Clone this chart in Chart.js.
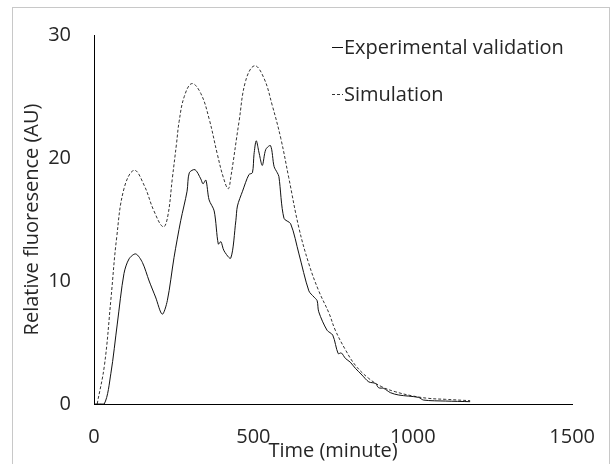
<!DOCTYPE html>
<html>
<head>
<meta charset="utf-8">
<script src="https://cdn.jsdelivr.net/npm/chart.js@4/dist/chart.umd.min.js"></script>
<style>
  html, body { margin: 0; padding: 0; background: #fff; }
  #wrap { width: 616px; height: 464px; }
</style>
</head>
<body>
<div id="wrap"><canvas id="chart" width="616" height="464"></canvas></div>
<script>
// data (time in minutes, fluorescence in AU)
const expTime = [0, 32, 53, 73, 94, 110, 131, 152, 173, 193, 214, 230, 251, 272, 292, 299, 317, 335, 342, 351,
  361, 377, 390, 398, 408, 429, 445, 450, 466, 486, 497, 502, 509, 518, 528, 539, 554, 565, 575, 580,
  596, 617, 643, 674, 690, 700, 705, 731, 749, 766, 776, 789, 804, 820, 841, 862, 883, 893, 909, 930,
  956, 1018, 1034, 1102, 1180];
const expValue = [0, 0, 2.5, 6.5, 10.6, 11.8, 12.2, 11.5, 10.0, 8.7, 7.3, 8.4, 11.9, 14.9, 17.3, 18.8, 19.05, 18.3, 17.9, 18.2,
  16.6, 15.7, 13.0, 13.2, 12.45, 11.86, 14.9, 16.1, 17.3, 18.65, 18.8, 20.3, 21.4, 20.4, 19.4, 20.7, 21.0, 19.3, 18.8, 18.5,
  15.1, 14.65, 12.2, 9.2, 8.7, 8.4, 7.5, 6.0, 5.6, 4.1, 4.15, 3.7, 3.4, 2.9, 2.35, 1.8, 1.67, 1.32, 1.27, 0.92,
  0.73, 0.54, 0.32, 0.24, 0.19];

const simTime = [10, 33, 53, 71, 94, 126, 157, 188, 217, 231, 246, 259, 267, 283, 307, 335, 361, 387, 406, 421,
  429, 455, 476, 504, 533, 559, 586, 611, 643, 674, 705, 737, 757, 789, 820, 862, 903, 945, 997, 1049,
  1102, 1180];
const simValue = [0, 3.2, 8.5, 13.5, 17.5, 19.0, 17.8, 15.7, 14.4, 15.2, 18.4, 21.2, 22.96, 24.98, 26.05, 25.25, 23.2, 20.3, 18.4, 17.5,
  18.4, 22.96, 26.3, 27.5, 26.5, 24.3, 21.6, 18.4, 14.3, 11.4, 9.2, 7.4, 6.0, 4.4, 3.15, 2.08, 1.4, 1.0, 0.67, 0.46,
  0.38, 0.27];

const seriesNames = ['Experimental validation', 'Simulation'];
const xTicks = [0, 500, 1000, 1500];
const yTicks = [0, 10, 20, 30];

const FONT = "'Open Sans', 'Noto Sans', sans-serif";
const TEXT = '#262626';
const SIZE = 20;

function toPoints(xs, ys) {
  return xs.map((x, i) => ({ x: x, y: ys[i] }));
}

// light frame round the whole picture
const framePlugin = {
  id: 'frame',
  beforeDraw(chart) {
    const ctx = chart.ctx;
    ctx.save();
    ctx.strokeStyle = '#c8c8c8';
    ctx.lineWidth = 1;
    ctx.strokeRect(12.5, 7.5, 597, 500);
    ctx.restore();
  }
};

// legend at top right, short line sample then the name
const legendPlugin = {
  id: 'cornerLegend',
  afterDraw(chart) {
    const ctx = chart.ctx;
    const rows = [48, 95];
    ctx.save();
    chart.data.datasets.forEach((ds, i) => {
      const y = rows[i];
      ctx.beginPath();
      ctx.strokeStyle = ds.borderColor;
      ctx.lineWidth = 1;
      ctx.setLineDash(ds.borderDash || []);
      ctx.moveTo(332, y - 0.5);
      ctx.lineTo(343, y - 0.5);
      ctx.stroke();
      ctx.setLineDash([]);
      ctx.fillStyle = TEXT;
      ctx.font = SIZE + 'px ' + FONT;
      ctx.textBaseline = 'middle';
      ctx.textAlign = 'left';
      ctx.fillText(ds.label, 344, y);
    });
    ctx.restore();
  }
};

new Chart(document.getElementById('chart'), {
  type: 'scatter',
  data: {
    datasets: [
      {
        label: seriesNames[0],
        data: toPoints(expTime, expValue),
        showLine: true,
        borderColor: '#111',
        borderWidth: 1,
        pointRadius: 0,
        tension: 0.3
      },
      {
        label: seriesNames[1],
        data: toPoints(simTime, simValue),
        showLine: true,
        borderColor: '#333',
        borderWidth: 1,
        borderDash: [3, 2],
        pointRadius: 0,
        tension: 0.4
      }
    ]
  },
  options: {
    responsive: false,
    animation: false,
    events: [],
    layout: { padding: { left: 0, right: 42, top: 33, bottom: 0 } },
    plugins: {
      legend: { display: false },
      tooltip: { enabled: false }
    },
    scales: {
      x: {
        type: 'linear',
        min: 0,
        max: 1500,
        afterFit: s => { s.height = 60; },
        afterBuildTicks: s => { s.ticks = xTicks.map(v => ({ value: v })); },
        grid: { display: false, drawTicks: false },
        border: { display: true, color: '#000', width: 1 },
        ticks: {
          padding: 21,
          color: TEXT,
          font: { family: FONT, size: SIZE },
          maxRotation: 0,
          callback: v => String(v)
        },
        title: {
          display: true,
          text: 'Time (minute)',
          color: TEXT,
          font: { family: FONT, size: SIZE },
          padding: { top: 0, bottom: 1 }
        }
      },
      y: {
        min: 0,
        max: 30,
        afterFit: s => { s.width = 94; },
        afterBuildTicks: s => { s.ticks = yTicks.map(v => ({ value: v })); },
        grid: { display: false, drawTicks: false },
        border: { display: true, color: '#000', width: 1 },
        ticks: {
          padding: 23,
          color: TEXT,
          font: { family: FONT, size: SIZE },
          callback: v => String(v)
        },
        title: {
          display: true,
          text: 'Relative fluoresence (AU)',
          color: TEXT,
          font: { family: FONT, size: SIZE },
          padding: { top: 20, bottom: 0 }
        }
      }
    }
  },
  plugins: [framePlugin, legendPlugin]
});
</script>
</body>
</html>
